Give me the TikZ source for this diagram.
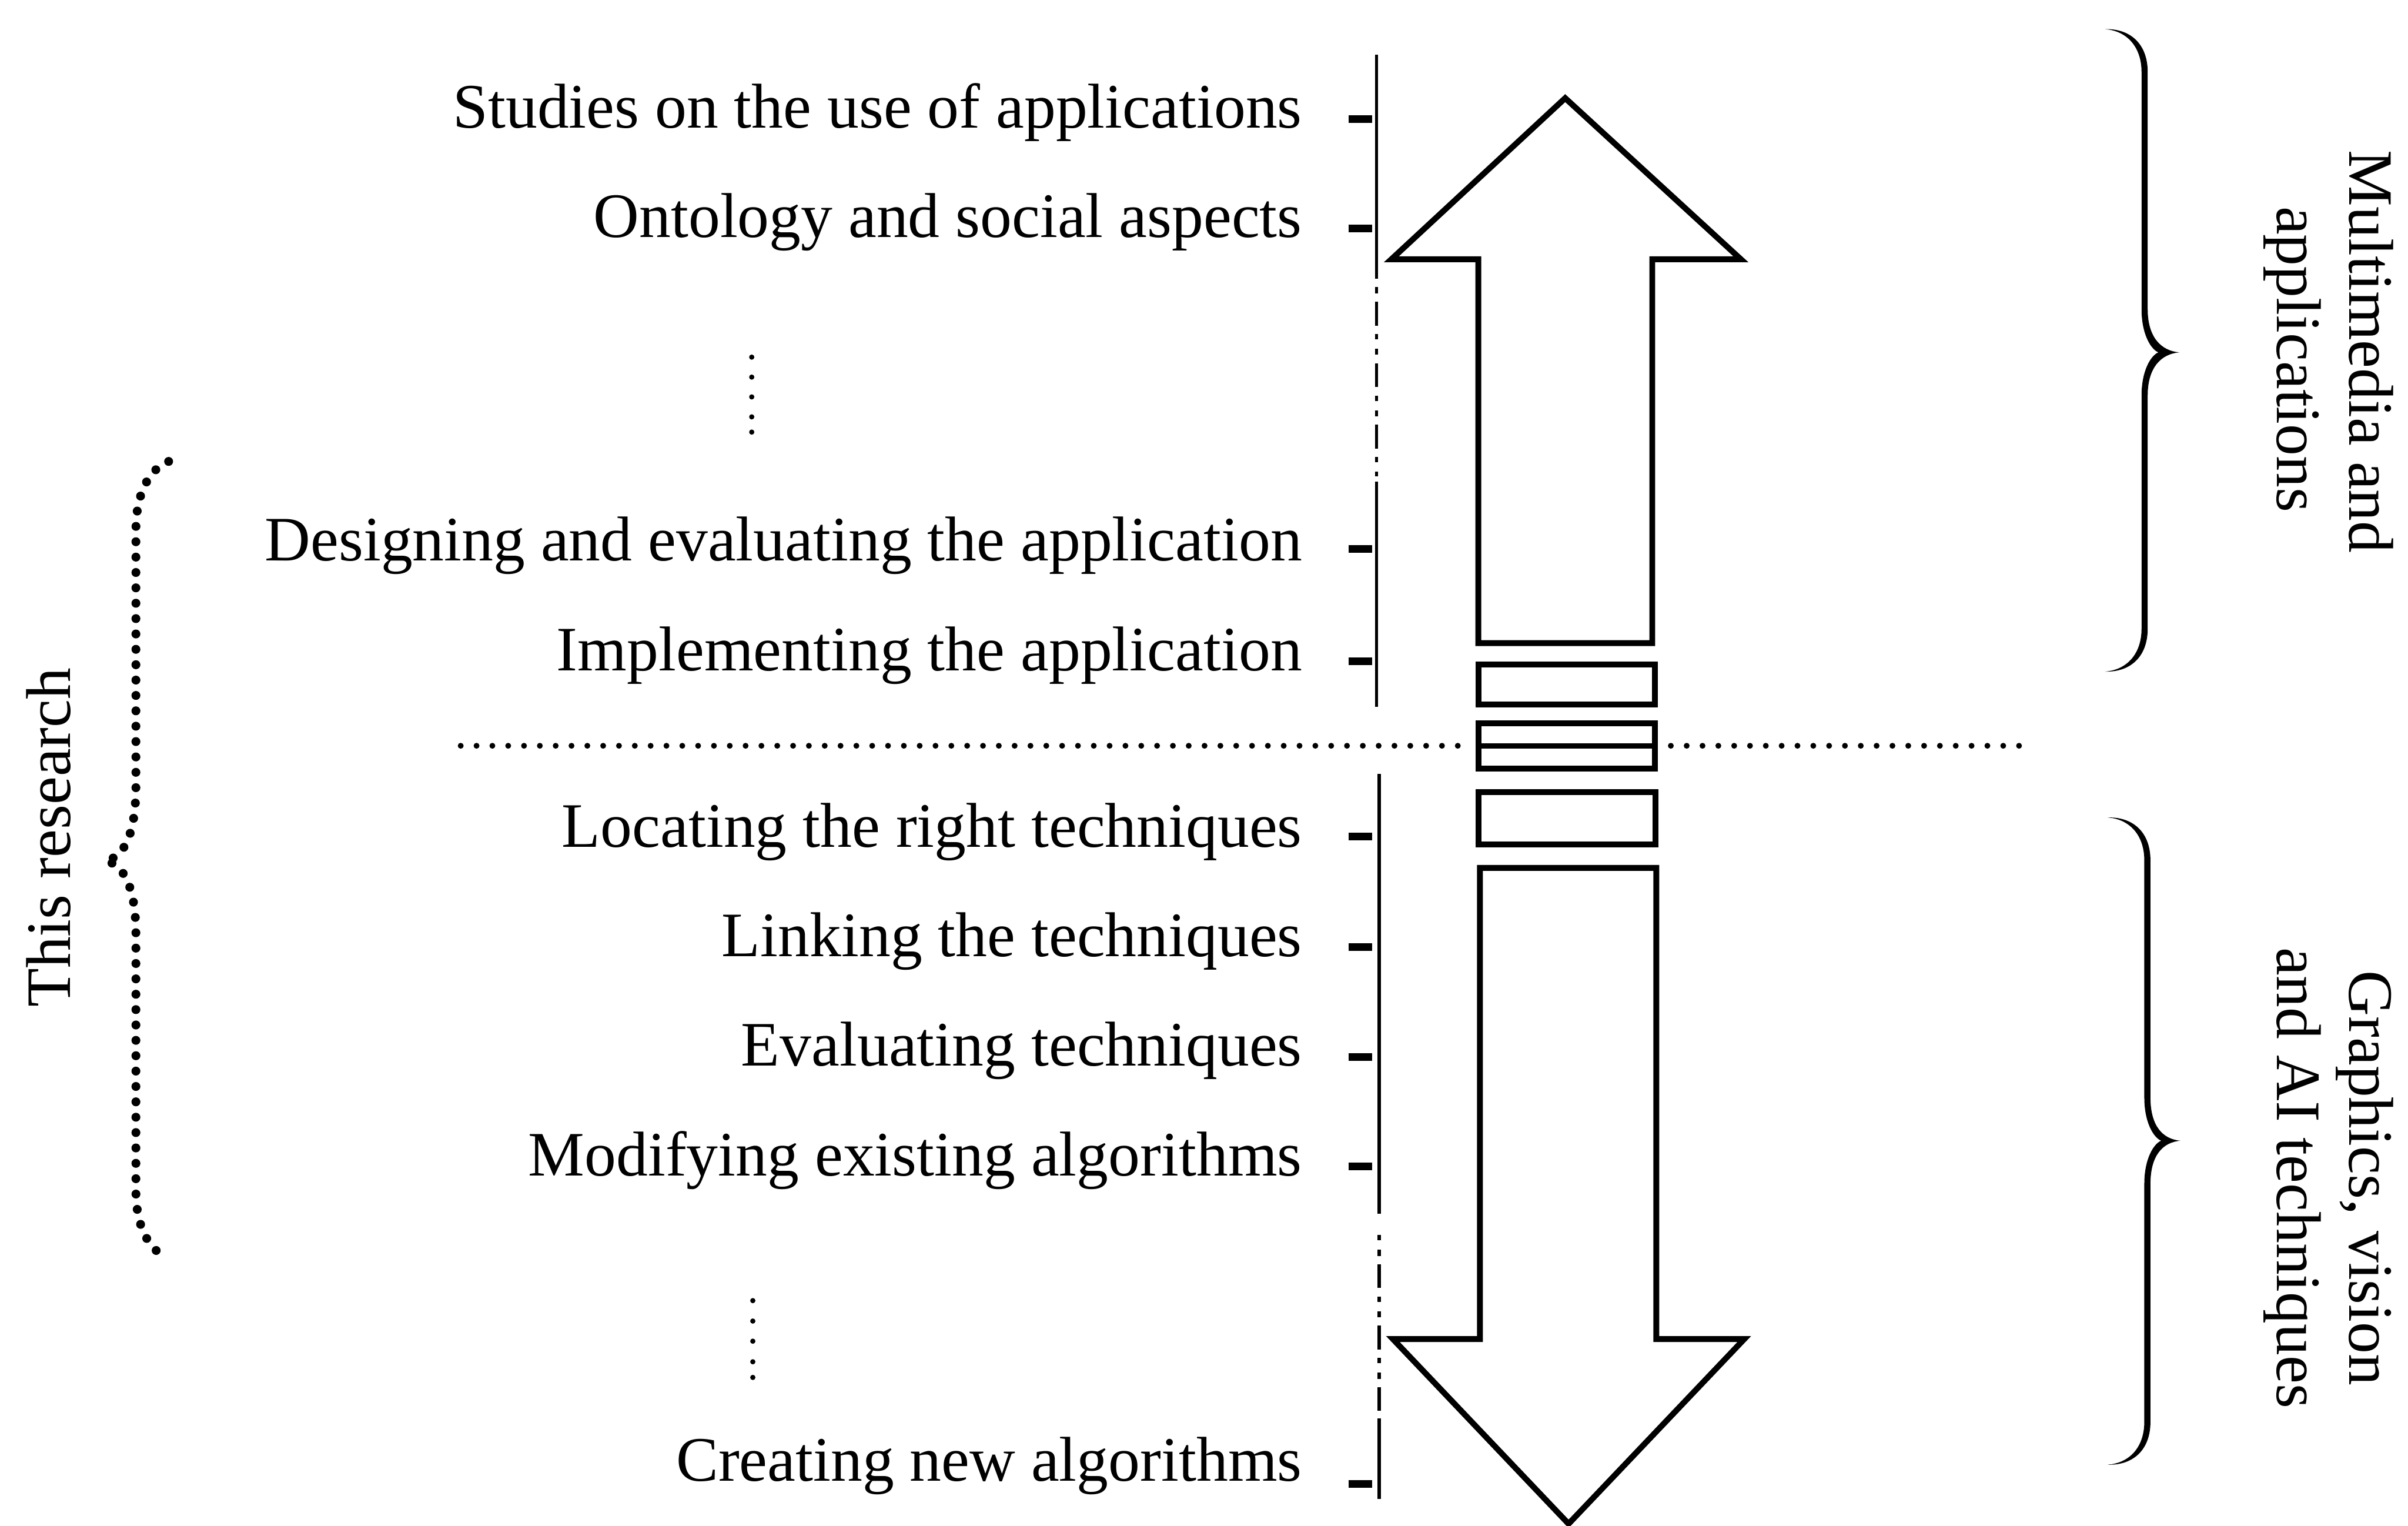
\documentclass[tikz,border=0pt]{standalone}
\usepackage{fontspec}
\setmainfont{Liberation Serif}

% tapered curly brace opening to the right:
% #1 end x, #2 spine x, #3 tip x, #4 top y, #5 middle y, #6 bottom y
\newcommand\drawtaperedbrace[6]{%
  \fill (#1,#4)
    .. controls ({#2-10},{#4-0.5}) and ({#2+2},{#4+9}) .. ({#2+2},{#4+28})
    -- ({#2+2},{#5-28})
    .. controls ({#2+2},{#5-10}) and ({#3-12},{#5-1}) .. (#3,#5)
    .. controls ({#3-12},{#5+1}) and ({#2+2},{#5+10}) .. ({#2+2},{#5+28})
    -- ({#2+2},{#6-28})
    .. controls ({#2+2},{#6-9}) and ({#2-10},{#6+0.5}) .. (#1,#6)
    .. controls ({#2-12},{#6-1}) and ({#2-2},{#6-11}) .. ({#2-2},{#6-28})
    -- ({#2-2},{#5+28})
    .. controls ({#2-2},{#5+12}) and ({#2+4},{#5+2}) .. ({#2+9},#5)
    .. controls ({#2+4},{#5-2}) and ({#2-2},{#5-12}) .. ({#2-2},{#5-28})
    -- ({#2-2},{#4+28})
    .. controls ({#2-2},{#4+11}) and ({#2-12},{#4+1}) .. (#1,#4) -- cycle;}

\begin{document}
\begin{tikzpicture}[x=0.01cm, y=-0.01cm,
  txt/.style={inner sep=0pt, font=\fontsize{11.72}{13.5}\selectfont},
  item/.style={txt, anchor=base east},
  tickmark/.style={line width=0.05cm},
  vline/.style={line width=0.021cm},
  vbreak/.style={vline, dash pattern=on 0.155cm off 0.055cm on 0.035cm off 0.06cm on 0.04cm off 0.055cm},
  bigarrow/.style={line width=0.038cm, line join=miter},
  sepline/.style={line width=0.038cm, line cap=round, dash pattern=on 0cm off 0.103cm},
  dotbrace/.style={line width=0.058cm, line cap=round, dash pattern=on 0cm off 0.10cm}]

\fill[white] (0,0) rectangle (1568,993.2);
\useasboundingbox (0,0) rectangle (1568,993.2);

% list of activities
\node[item] (s1) at (848.5,83.2)  {Studies on the use of applications};
\node[item] (s2) at (848.5,154.5) {Ontology and social aspects};
\node[item] (s3) at (848.5,365)   {Designing and evaluating the application};
\node[item] (s4) at (848.5,436.7) {Implementing the application};
\node[item] (s5) at (848.5,551.3) {Locating the right techniques};
\node[item] (s6) at (848.5,622.8) {Linking the techniques};
\node[item] (s7) at (848.5,694)   {Evaluating techniques};
\node[item] (s8) at (848.5,765.5) {Modifying existing algorithms};
\node[item] (s9) at (848.5,964)   {Creating new algorithms};

% tick marks
\foreach \y in {77.5,148.9,357.5,430.5,544.7,616.6,688,759.3,966}
  \draw[tickmark] (878,\y) -- (893.5,\y);

% vertical scale lines with broken parts
\draw[vline] (896.3,35.8) -- (896.3,181.5);
\draw[vbreak, dash phase=0.305cm] (896.3,187) -- (896.3,310);
\draw[vline] (896.3,313.7) -- (896.3,460);
\draw[vline] (898,503.8) -- (898,790);
\draw[vbreak, dash phase=0.155cm] (898,798.5) -- (898,918.5);
\draw[vline] (898,923.5) -- (898,975.8);

% vertical ellipses
\foreach \y in {232.5,245.5,258.4,271.4,281.3}
  \fill (489.5,\y) circle[radius=0.017cm];
\foreach \y in {846.7,860,873.1,886.5,896.7}
  \fill (490.2,\y) circle[radius=0.017cm];

% up arrow
\draw[bigarrow] (962.6,418.7) -- (962.6,168.8) -- (906,168.8) -- (1019.2,63.9)
  -- (1133.6,168.8) -- (1075.9,168.8) -- (1075.9,418.7) -- cycle;
% bars between the arrows
\draw[bigarrow] (962.6,432.6) rectangle (1077.5,458.8);
\draw[bigarrow] (962.6,471) rectangle (1077.5,500.3);
\draw[bigarrow] (962.6,515.5) rectangle (1078,549.8);
% down arrow
\draw[bigarrow] (963.7,565) -- (963.7,871.7) -- (907,871.7) -- (1021.4,992)
  -- (1135.8,871.7) -- (1078.5,871.7) -- (1078.5,565) -- cycle;

% dotted separator
\draw[sepline] (300,485.5) -- (955,485.5);
\draw[sepline] (1088,485.5) -- (1320,485.5);
\draw[line width=0.034cm] (962.6,485.5) -- (1077.5,485.5);

% dotted brace on the left
\draw[dotbrace] (109.8,300.4) .. controls (98,305) and (88.5,320) .. (88.5,345)
  -- (88.5,512) .. controls (88.5,540) and (82,558) .. (68.6,560.4)
  .. controls (82,563) and (88.5,581) .. (88.5,608)
  -- (88.5,775) .. controls (88.5,800) and (98,814.6) .. (109.8,819.2);
\node[txt, rotate=90, anchor=base] (res) at (45.9,545.2) {This research};

% braces on the right
\drawtaperedbrace{1370.7}{1396.5}{1419.1}{19}{229.4}{437.2}
\drawtaperedbrace{1372.5}{1398.3}{1419.9}{532.2}{742.6}{953.5}

\node[txt, rotate=-90, anchor=base] (m1) at (1530,229)   {Multimedia and};
\node[txt, rotate=-90, anchor=base] (m2) at (1482.7,234) {applications};
\node[txt, rotate=-90, anchor=base] (g1) at (1530,767)   {Graphics, vision};
\node[txt, rotate=-90, anchor=base] (g2) at (1482.7,767) {and AI techniques};
\end{tikzpicture}
\end{document}
